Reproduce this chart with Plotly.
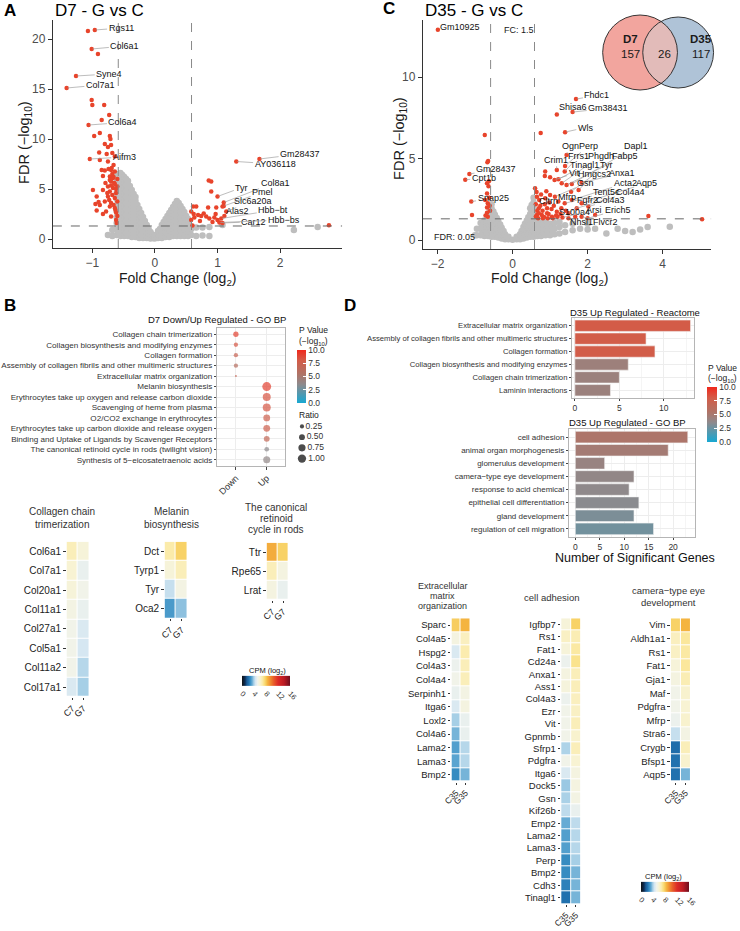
import numpy as np
import plotly.graph_objects as go

W, H = 740, 931
FONT = "Liberation Sans, Arial, sans-serif"

# ---------------- data: A volcano (D7 G vs C) ----------------
A_DOWN = [(-1.07, 20.8), (-0.96, 20.9), (-1.01, 19.0), (-0.91, 18.5), (-1.26, 16.3), (-1.41, 15.1),
          (-1.01, 13.9), (-1.00, 13.4), (-0.81, 13.4), (-0.73, 12.4), (-0.85, 11.9), (-1.06, 11.4),
          (-0.88, 10.6), (-0.97, 10.3), (-0.72, 10.3), (-0.71, 10.0), (-0.80, 9.5), (-0.70, 9.4),
          (-0.75, 9.2), (-0.89, 8.65), (-0.77, 8.5), (-0.68, 8.6), (-0.64, 8.25), (-1.04, 8.0),
          (-0.88, 7.9), (-0.75, 7.75), (-0.85, 6.9), (-0.80, 6.85), (-0.70, 6.9), (-0.64, 6.75),
          (-0.83, 6.3), (-0.72, 6.25), (-0.67, 6.1), (-0.60, 6.0), (-0.70, 5.75), (-0.64, 5.5),
          (-0.75, 5.25), (-0.67, 5.1), (-0.60, 5.25), (-0.99, 4.9), (-0.83, 4.9), (-0.72, 4.75),
          (-0.62, 4.6), (-0.93, 4.25), (-0.75, 4.25), (-0.64, 4.1), (-0.80, 3.75), (-0.70, 3.6),
          (-0.60, 3.75), (-0.88, 3.4), (-0.72, 3.25), (-0.64, 3.1), (-0.93, 2.85), (-0.78, 2.75),
          (-0.62, 2.65), (-0.70, 2.25), (-0.60, 2.3), (-0.83, 2.5), (-0.68, 6.5), (-0.66, 6.2),
          (-0.72, 5.9), (-0.65, 5.6), (-0.70, 5.35), (-0.62, 5.0), (-0.68, 4.4), (-0.73, 3.9),
          (-0.66, 3.4), (-0.62, 1.9), (-0.61, 1.6), (-0.63, 2.9), (-0.90, 3.7), (-0.95, 3.5),
          (-0.76, 4.6), (-0.79, 5.6), (-0.69, 7.1), (-0.74, 7.0), (-0.66, 7.4)]
A_UP = [(1.67, 8.0), (1.30, 7.75), (0.86, 5.85), (0.90, 5.75), (0.90, 4.75), (1.00, 4.25),
        (1.10, 3.65), (1.10, 3.3), (0.61, 3.25), (0.66, 3.25), (0.85, 3.15), (0.98, 3.15),
        (1.08, 3.25), (0.58, 2.75), (0.62, 2.5), (0.69, 2.4), (0.74, 2.3), (0.82, 2.25),
        (0.87, 2.05), (0.95, 2.15), (1.00, 1.9), (1.06, 2.05), (1.11, 2.3), (0.63, 2.15),
        (0.58, 1.9), (1.03, 1.65), (1.08, 1.6), (0.78, 2.55), (0.97, 2.5), (1.14, 2.75),
        (0.60, 1.35), (2.78, 1.38), (0.72, 1.8), (0.92, 1.7)]
A_NS = [(-0.75, [0.4]), (-0.68, [0.3, 0.9]),
        (-0.61, [0.4, 1.0, 1.6, 2.2, 2.8, 3.4, 4.0, 4.6, 5.2, 5.8, 6.3]),
        (-0.58, [0.7, 1.3, 1.9, 2.5, 3.1, 3.7, 4.3, 4.9, 5.5, 6.1, 6.5]),
        (-0.55, [0.3, 0.9, 1.5, 2.1, 2.7, 3.3, 3.9, 4.5, 5.1, 5.7, 6.3, 6.6]),
        (-0.52, [0.6, 1.2, 1.8, 2.4, 3.0, 3.6, 4.2, 4.8, 5.4, 6.0, 6.4]),
        (-0.49, [0.3, 0.9, 1.5, 2.1, 2.7, 3.3, 3.9, 4.5, 5.1, 5.7, 6.2]),
        (-0.46, [0.6, 1.2, 1.8, 2.4, 3.0, 3.6, 4.2, 4.8, 5.4, 6.0]),
        (-0.43, [0.3, 0.9, 1.5, 2.1, 2.7, 3.3, 3.9, 4.5, 5.2, 5.8]),
        (-0.40, [0.5, 1.1, 1.7, 2.3, 2.9, 3.5, 4.1, 4.7, 5.3]),
        (-0.37, [0.2, 0.8, 1.4, 2.0, 2.6, 3.2, 3.8, 4.4, 4.9]),
        (-0.34, [0.5, 1.1, 1.7, 2.3, 2.9, 3.5, 4.1, 4.5]),
        (-0.31, [0.2, 0.8, 1.4, 2.0, 2.6, 3.2, 3.8, 4.2]),
        (-0.28, [0.4, 1.0, 1.6, 2.2, 2.8, 3.4]),
        (-0.25, [0.1, 0.7, 1.3, 1.9, 2.5, 3.0]),
        (-0.22, [0.4, 1.0, 1.6, 2.2, 2.6]),
        (-0.19, [0.1, 0.6, 1.2, 1.8, 2.2]),
        (-0.16, [0.3, 0.9, 1.5, 1.8]),
        (-0.13, [0.1, 0.5, 1.0, 1.4]),
        (-0.10, [0.2, 0.6, 1.0]),
        (-0.07, [0.05, 0.4, 0.7]),
        (-0.04, [0.15, 0.45]),
        (-0.01, [0.05, 0.25]),
        (0.02, [0.1, 0.4]),
        (0.05, [0.1, 0.5, 0.8]),
        (0.08, [0.3, 0.7, 1.0]),
        (0.11, [0.1, 0.6, 1.1, 1.4]),
        (0.14, [0.4, 0.9, 1.4, 1.7]),
        (0.17, [0.2, 0.7, 1.2, 1.7, 2.0]),
        (0.20, [0.5, 1.0, 1.5, 2.0, 2.3]),
        (0.23, [0.2, 0.8, 1.4, 2.0, 2.6]),
        (0.26, [0.5, 1.1, 1.7, 2.3, 2.9]),
        (0.29, [0.3, 0.9, 1.5, 2.1, 2.7, 3.2]),
        (0.32, [0.6, 1.2, 1.8, 2.4, 3.0, 3.5]),
        (0.35, [0.3, 0.9, 1.5, 2.1, 2.7, 3.3, 3.8]),
        (0.38, [0.6, 1.2, 1.8, 2.4, 3.0, 3.6]),
        (0.41, [0.3, 0.9, 1.5, 2.1, 2.7, 3.3]),
        (0.44, [0.6, 1.2, 1.8, 2.4, 3.0]),
        (0.47, [0.3, 0.9, 1.5, 2.1, 2.7]),
        (0.50, [0.6, 1.2, 1.8, 2.3]),
        (0.53, [0.3, 0.9, 1.5, 2.0]),
        (0.58, [0.4, 1.0]),
        (0.66, [0.3, 1.15]), (0.76, [0.35, 1.15]), (0.87, [0.3, 1.2]), (1.08, [1.4]),
        (2.22, [0.9]), (2.6, [1.2])]
A_LABELS = ["Rgs11", "Col6a1", "Syne4", "Col7a1", "Col6a4", "Aifm3", "Gm28437", "AY036118",
            "Tyr", "Col8a1", "Pmel", "Slc6a20a", "Alas2", "Hbb−bt", "Car12", "Hbb−bs"]
A_LAB_PT = [(-0.96, 20.9), (-1.01, 19.0), (-1.26, 16.3), (-1.41, 15.1), (-1.06, 11.4), (-1.04, 8.0),
            (1.67, 8.0), (1.30, 7.75), (1.00, 4.25), (1.10, 3.65), (1.10, 3.3), (1.14, 2.75),
            (1.11, 2.3), (1.06, 2.05), (1.08, 1.6), (1.03, 1.65)]
A_LAB_TXT = [(-0.54, 21.1), (-0.48, 19.3), (-0.73, 16.5), (-0.87, 15.4), (-0.51, 11.65), (-0.49, 8.2),
             (2.32, 8.5), (1.92, 7.5), (1.39, 5.15), (1.92, 5.65), (1.72, 4.68), (1.57, 3.78),
             (1.32, 2.8), (1.89, 2.87), (1.58, 1.73), (2.06, 1.9)]

# ---------------- data: C volcano (D35 G vs C) ----------------
C_DOWN = [(-1.99, 12.9), (-0.74, 6.45), (-0.65, 4.85), (-0.67, 4.78), (-1.15, 4.05), (-1.26, 3.7),
          (-0.68, 3.48), (-0.64, 3.3), (-0.68, 2.85), (-0.62, 2.6), (-0.73, 2.46), (-0.66, 2.25),
          (-0.68, 2.0), (-1.10, 2.36), (-1.08, 1.54), (-0.60, 1.8), (-0.68, 1.68), (-0.66, 1.43),
          (-0.63, 3.6), (-0.61, 2.1), (-0.72, 1.5)]
C_UP = [(1.69, 8.65), (1.18, 7.7), (1.60, 7.85), (1.40, 6.62), (0.75, 6.56), (1.44, 5.22),
        (1.40, 4.55), (1.18, 4.3), (1.39, 4.2), (0.87, 4.2), (0.86, 3.93), (1.00, 3.85),
        (1.12, 3.69), (1.22, 3.73), (1.31, 3.48), (1.44, 3.38), (1.58, 3.44), (1.84, 3.52),
        (1.76, 3.07), (1.56, 2.97), (0.60, 3.17), (0.65, 2.66), (0.71, 2.46), (0.87, 2.56),
        (1.00, 2.76), (1.13, 2.66), (1.22, 2.36), (1.39, 2.25), (1.58, 2.46), (1.84, 2.25),
        (2.02, 2.05), (1.71, 1.95), (1.49, 1.64), (1.18, 1.74), (0.70, 1.95), (0.65, 1.54),
        (0.78, 1.54), (0.92, 1.64), (1.05, 1.43), (0.68, 1.33), (0.81, 1.33), (0.94, 1.33),
        (1.07, 1.33), (1.20, 1.43), (1.33, 1.38), (1.49, 1.33), (1.67, 1.43), (1.84, 1.43),
        (2.00, 1.33), (2.20, 1.54), (3.62, 1.47), (5.05, 1.27), (0.62, 2.2), (0.66, 1.8),
        (0.74, 2.1), (0.80, 1.8), (0.86, 2.2), (0.92, 1.95), (0.98, 2.3), (1.04, 1.9),
        (1.10, 2.1), (1.16, 1.5), (0.62, 1.45), (0.70, 1.65), (0.76, 2.8), (0.90, 3.0),
        (0.64, 2.95), (1.30, 1.95), (1.28, 1.6), (1.42, 1.8), (0.84, 1.42), (0.96, 1.6)]
C_NS = [(-1.0, [0.3]), (-0.95, [0.3, 0.7]), (-0.85, [0.3, 0.7, 1.05]), (-0.80, [0.5, 0.9]),
        (-0.75, [0.25, 0.6, 0.95, 1.2]), (-0.70, [0.45, 0.8, 1.1]), (-0.65, [0.25, 0.6, 0.95, 1.25]),
        (-0.60, [0.4, 0.75, 1.1, 1.45, 1.8, 2.1]),
        (-0.56, [0.2, 0.55, 0.9, 1.25, 1.6, 1.95, 2.2]),
        (-0.51, [0.4, 0.75, 1.1, 1.45, 1.75]),
        (-0.47, [0.2, 0.55, 0.9, 1.25, 1.55]),
        (-0.42, [0.35, 0.7, 1.05, 1.35]),
        (-0.38, [0.15, 0.5, 0.85, 1.15]),
        (-0.33, [0.3, 0.65, 0.95]),
        (-0.29, [0.1, 0.45, 0.75]), (-0.24, [0.25, 0.55]), (-0.2, [0.05, 0.35]), (-0.15, [0.2]),
        (-0.11, [0.05, 0.2]), (0.0, [0.02]), (0.11, [0.05, 0.2]), (0.15, [0.2]), (0.2, [0.05, 0.35]),
        (0.24, [0.25, 0.55]), (0.29, [0.1, 0.45, 0.8]), (0.33, [0.3, 0.65, 1.0]),
        (0.38, [0.15, 0.5, 0.85, 1.2]), (0.42, [0.35, 0.7, 1.05, 1.4]),
        (0.47, [0.2, 0.55, 0.9, 1.25, 1.6, 1.95]),
        (0.51, [0.4, 0.75, 1.1, 1.45, 1.8, 2.15]),
        (0.56, [0.2, 0.55, 0.9, 1.25, 1.6, 1.95, 2.3, 2.6]),
        (0.61, [0.4, 0.75, 1.05]),
        (0.66, [0.25, 0.6, 0.95, 1.2]), (0.71, [0.4, 0.8, 1.1]), (0.76, [0.25, 0.6, 0.95, 1.2]),
        (0.82, [0.45, 0.8, 1.1]), (0.88, [0.3, 0.65, 1.0, 1.2]), (0.94, [0.5, 0.85]),
        (1.0, [0.3, 0.65, 1.0]), (1.06, [0.5, 0.85]), (1.12, [0.35, 0.7, 1.05]),
        (1.25, [0.4, 0.8, 1.1]), (1.4, [0.5, 0.9]), (1.6, [0.6, 1.0]), (1.8, [0.7]),
        (2.0, [0.65, 1.0]), (2.2, [0.7]), (2.5, [0.4]), (2.8, [0.7]), (3.0, [0.55]),
        (3.2, [0.5]), (3.4, [0.65]), (3.6, [0.8]), (4.19, [0.82])]
C_LABELS = ["Gm10925", "Fhdc1", "Shisa6", "Gm38431", "Wls", "Gm28437", "Cpt1b", "Snap25",
            "Ogn", "Perp", "Dapl1", "Frrs1", "Phgdh", "Fabp5", "Crim1", "Tinagl1", "Tyr", "Vit",
            "Hmgcs2", "Anxa1", "Gsn", "Acta2", "Aqp5", "Tent5c", "Col4a4", "Mfrp", "Cltrn",
            "Fgfr2", "Col4a3", "S100a4", "Arsi", "Erich5", "Nhsl1", "Flvcr2"]
C_LAB_PT = [(-1.99, 12.9), (1.69, 8.65), (1.18, 7.7), (1.60, 7.85), (1.40, 6.62), (-1.15, 4.05),
            (-1.26, 3.7), (-1.10, 2.36), (1.44, 5.22), (1.40, 4.55), (1.58, 3.44), (1.39, 4.2),
            (1.31, 3.48), (1.44, 3.38), (1.18, 4.3), (1.22, 3.73), (1.56, 2.97), (1.12, 3.69),
            (1.76, 3.07), (1.84, 3.52), (1.13, 2.66), (1.58, 2.46), (1.84, 2.25), (1.39, 2.25),
            (1.71, 1.95), (1.22, 2.36), (0.87, 2.56), (1.49, 1.64), (2.02, 2.05), (1.18, 1.74),
            (1.33, 1.38), (2.00, 1.33), (1.49, 1.33), (1.84, 1.43)]
C_LAB_TXT = [(-1.41, 13.1), (2.25, 8.87), (1.62, 8.15), (2.55, 8.09), (1.94, 6.9), (-0.44, 4.35),
             (-0.77, 3.79), (-0.52, 2.56), (1.54, 5.78), (2.02, 5.78), (3.28, 5.74), (1.77, 5.16),
             (2.35, 5.16), (3.0, 5.16), (1.16, 4.92), (1.93, 4.59), (2.51, 4.59), (1.64, 4.1),
             (2.18, 4.06), (2.92, 4.1), (1.95, 3.48), (3.0, 3.48), (3.56, 3.48), (2.51, 2.93),
             (3.15, 2.93), (1.44, 2.66), (0.97, 2.4), (1.99, 2.46), (2.62, 2.46), (1.65, 1.74),
             (2.17, 1.84), (2.8, 1.84), (1.84, 1.13), (2.47, 1.13)]

FC_CUT = 0.585   # log2(1.5)
FDR_CUT = 1.301  # -log10(0.05)

# ---------------- data: Venn ----------------
VENN_SETS = ["D7", "D35"]
VENN_ONLY = [157, 117]
VENN_BOTH = 26

# ---------------- data: B dot plot ----------------
DOT_TERMS = ["Collagen chain trimerization", "Collagen biosynthesis and modifying enzymes",
             "Collagen formation", "Assembly of collagen fibrils and other multimeric structures",
             "Extracellular matrix organization", "Melanin biosynthesis",
             "Erythrocytes take up oxygen and release carbon dioxide", "Scavenging of heme from plasma",
             "O2/CO2 exchange in erythrocytes", "Erythrocytes take up carbon dioxide and release oxygen",
             "Binding and Uptake of Ligands by Scavenger Receptors",
             "The canonical retinoid cycle in rods (twilight vision)",
             "Synthesis of 5−eicosatetraenoic acids"]
DOT_GROUP = ["Down"] * 5 + ["Up"] * 8
DOT_RATIO = [0.41, 0.27, 0.27, 0.27, 0.06, 1.15, 0.93, 0.93, 0.68, 0.68, 0.5, 0.32, 0.72]
DOT_PVAL = [9.0, 8.2, 7.2, 6.0, 7.0, 9.0, 8.3, 8.2, 7.6, 7.6, 6.8, 3.5, 3.8]
RATIO_BREAKS = [0.25, 0.50, 0.75, 1.00]

# ---------------- data: D bars ----------------
REACT_TERMS = ["Extracellular matrix organization",
               "Assembly of collagen fibrils and other multimeric structures",
               "Collagen formation", "Collagen biosynthesis and modifying enzymes",
               "Collagen chain trimerization", "Laminin interactions"]
REACT_N = [13, 8, 9, 6, 5, 4]
REACT_P = [8.0, 7.9, 7.9, 4.4, 4.3, 4.3]
GOBP_TERMS = ["cell adhesion", "animal organ morphogenesis", "glomerulus development",
              "camera−type eye development", "response to acid chemical",
              "epithelial cell differentiation", "gland development", "regulation of cell migration"]
GOBP_N = [23, 19, 6, 12, 11, 13, 12, 16]
GOBP_P = [5.3, 4.8, 4.1, 3.8, 3.6, 3.4, 3.0, 2.7]

# ---------------- data: heatmaps (CPM, log2) ----------------
B1_GENES = ["Col6a1", "Col7a1", "Col20a1", "Col11a1", "Col27a1", "Col5a1", "Col11a2", "Col17a1"]
B1_C = [6.5, 6.0, 5.8, 5.5, 5.3, 5.3, 5.3, 4.6]
B1_G = [5.8, 5.0, 5.3, 5.0, 4.6, 4.5, 4.1, 3.9]
B2_GENES = ["Dct", "Tyrp1", "Tyr", "Oca2"]
B2_C = [6.8, 5.8, 4.3, 3.0]
B2_G = [7.8, 6.5, 5.5, 3.7]
B3_GENES = ["Ttr", "Rpe65", "Lrat"]
B3_C = [8.7, 6.5, 5.6]
B3_G = [7.8, 5.6, 5.0]
D1_GENES = ["Sparc", "Col4a5", "Hspg2", "Col4a3", "Col4a4", "Serpinh1", "Itga6", "Loxl2",
            "Col4a6", "Lama2", "Lama3", "Bmp2"]
D1_C = [7.9, 5.6, 4.6, 5.1, 5.3, 5.0, 4.6, 3.9, 3.5, 3.1, 3.2, 2.7]
D1_G = [8.5, 6.4, 6.7, 6.5, 6.5, 5.5, 5.6, 5.0, 5.0, 4.1, 4.1, 3.5]
D2_GENES = ["Igfbp7", "Rs1", "Fat1", "Cd24a", "Anxa1", "Ass1", "Col4a3", "Ezr", "Vit", "Gpnmb",
            "Sfrp1", "Pdgfra", "Itga6", "Dock5", "Gsn", "Kif26b", "Emp2", "Lama2", "Lama3",
            "Perp", "Bmp2", "Cdh3", "Tinagl1"]
D2_C = [5.8, 6.3, 5.8, 5.1, 5.6, 5.7, 5.1, 5.3, 5.3, 5.3, 4.0, 5.3, 4.6, 3.8, 3.95, 4.2,
        3.35, 3.1, 3.1, 2.7, 2.7, 2.5, 2.2]
D2_G = [7.8, 6.6, 6.9, 7.2, 6.5, 6.5, 6.4, 6.3, 6.5, 6.1, 6.5, 6.0, 5.6, 5.6, 5.5, 5.0,
        4.2, 4.1, 4.1, 3.9, 3.5, 3.5, 3.5]
D3_GENES = ["Vim", "Aldh1a1", "Rs1", "Fat1", "Gja1", "Maf", "Pdgfra", "Mfrp", "Stra6", "Crygb",
            "Bfsp1", "Aqp5"]
D3_C = [7.8, 6.4, 6.3, 5.8, 5.6, 5.3, 5.3, 5.1, 4.3, 2.1, 2.2, 2.2]
D3_G = [8.5, 7.0, 6.9, 7.0, 6.6, 6.1, 6.0, 6.1, 5.5, 6.5, 6.1, 3.5]
CPM_TICKS = [0, 4, 8, 12, 16]

# ---------------- styles ----------------
RED = "#E8442B"
GREY = "#BEBEBE"
PSCALE = [[0, "#18A8D2"], [0.35, "#8D8A8D"], [0.55, "#B07366"], [0.8, "#D35C48"], [1, "#F0281C"]]
CPM_STOPS = [(0, "#111111"), (1, "#0B2D55"), (1.6, "#1A5A94"), (2.2, "#2171AE"), (2.8, "#3A91C5"),
             (3.4, "#6AADD5"), (3.9, "#A6CFE6"), (4.5, "#D6E7F2"), (5.2, "#F0F3EC"), (6.0, "#F8F3D3"),
             (6.8, "#FBEBAA"), (7.6, "#F9DA72"), (8.5, "#F4B440"), (9.5, "#EF8A30"), (10.5, "#E95F29"),
             (12, "#DC2B26"), (14, "#BB1A23"), (16, "#6E0E1E")]
CPM_SCALE = [[v / 16, c] for v, c in CPM_STOPS]


def px(x):
    return x / W


def py(y):
    return 1 - y / H


def refs(n):
    return ("x", "y") if n == 1 else (f"x{n}", f"y{n}")


def names(n):
    return ("xaxis", "yaxis") if n == 1 else (f"xaxis{n}", f"yaxis{n}")


fig = go.Figure()
layout = {}
annotations = []
shapes = []


def txt(text, x, y, size=10, color="#1a1a1a", xanchor="center", yanchor="middle", angle=0):
    annotations.append(dict(text=text, x=px(x), y=py(y), xref="paper", yref="paper", showarrow=False,
                            xanchor=xanchor, yanchor=yanchor, textangle=angle,
                            font=dict(size=size, color=color, family=FONT)))


def set_axes(n, left, right, top, bottom, xa, ya):
    xn, yn = names(n)
    xr, yr = refs(n)
    base = dict(zeroline=False, showgrid=False)
    layout[xn] = dict(base, domain=[px(left), px(right)], anchor=yr, **xa)
    layout[yn] = dict(base, domain=[py(bottom), py(top)], anchor=xr, **ya)


# ---------------- volcano panels ----------------
def volcano(n, down, up, ns, labels, lab_pt, lab_txt, box, xr, yr, xt, yt, gsize):
    xref, yref = refs(n)
    nsx = [x for x, ys in ns for _ in ys]
    nsy = [y for _, ys in ns for y in ys]
    fig.add_trace(go.Scatter(x=nsx, y=nsy, mode="markers", xaxis=xref, yaxis=yref,
                             marker=dict(color=GREY, size=gsize, line=dict(width=0))))
    sig = down + up
    fig.add_trace(go.Scatter(x=[p[0] for p in sig], y=[p[1] for p in sig], mode="markers",
                             xaxis=xref, yaxis=yref, marker=dict(color=RED, size=4.5, line=dict(width=0))))
    ax_style = dict(showline=True, linecolor="#333", linewidth=1, ticks="outside", ticklen=4,
                    tickcolor="#333", tickfont=dict(size=12, color="#4d4d4d", family=FONT))
    set_axes(n, *box, dict(ax_style, range=xr, tickvals=xt, ticktext=[str(v).replace("-", "−") for v in xt]),
             dict(ax_style, range=yr, tickvals=yt))
    for xv in (-FC_CUT, FC_CUT):
        shapes.append(dict(type="line", xref=xref, yref=f"{yref} domain", x0=xv, x1=xv, y0=0, y1=1,
                           line=dict(color="#8a8a8a", width=1, dash="dash")))
    shapes.append(dict(type="line", xref=f"{xref} domain", yref=yref, x0=0, x1=1, y0=FDR_CUT, y1=FDR_CUT,
                       line=dict(color="#666", width=1, dash="dash")))
    for lab, (x0, y0), (tx, ty) in zip(labels, lab_pt, lab_txt):
        annotations.append(dict(text=lab, x=x0, y=y0, ax=tx, ay=ty, xref=xref, yref=yref,
                                axref=xref, ayref=yref, showarrow=True, arrowhead=0, arrowwidth=0.7,
                                arrowcolor="#a0a0a0", standoff=1,
                                font=dict(size=9, color="#111", family=FONT)))


volcano(1, A_DOWN, A_UP, A_NS, A_LABELS, A_LAB_PT, A_LAB_TXT, (53, 343, 20, 248),
        [-1.63, 2.99], [-0.9, 21.9], [-1, 0, 1, 2], [0, 5, 10, 15, 20], 6.5)
volcano(2, C_DOWN, C_UP, C_NS, C_LABELS, C_LAB_PT, C_LAB_TXT, (424, 713, 20, 249),
        [-2.39, 5.29], [-0.55, 13.5], [-2, 0, 2, 4], [0, 5, 10], 6.5)

txt("<b>A</b>", 2, 10, size=17, color="#000", xanchor="left")
txt("D7 - G vs C", 53, 10, size=17, color="#000", xanchor="left")
txt("Fold Change (log<sub>2</sub>)", 178, 279, size=14)
txt("FDR (−log<sub>10</sub>)", 25, 142, size=14.5, angle=-90)
txt("<b>C</b>", 382, 9, size=17, color="#000", xanchor="left")
txt("D35 - G vs C", 424, 10, size=17, color="#000", xanchor="left")
txt("Fold Change (log<sub>2</sub>)", 551, 279, size=14)
txt("FDR (−log<sub>10</sub>)", 401, 138, size=14.5, angle=-90)
txt("FC: 1.5", 503, 30, size=9, xanchor="left")
txt("FDR: 0.05", 433, 237, size=9, xanchor="left")

# ---------------- Venn ----------------
set_axes(3, 595, 725, 5, 100, dict(range=[595, 725], visible=False), dict(range=[100, 5], visible=False))
c1, r1 = (641.8, 52.5), 37.5
c2, r2 = (680.0, 52.5), 35.5
shapes.append(dict(type="circle", xref="x3", yref="y3", x0=c1[0] - r1, x1=c1[0] + r1, y0=c1[1] - r1,
                   y1=c1[1] + r1, fillcolor="#F2A59E", line=dict(width=0), layer="below"))
shapes.append(dict(type="circle", xref="x3", yref="y3", x0=c2[0] - r2, x1=c2[0] + r2, y0=c2[1] - r2,
                   y1=c2[1] + r2, fillcolor="#AFC3D7", line=dict(width=0), layer="below"))
d = c2[0] - c1[0]
a = (d * d + r1 * r1 - r2 * r2) / (2 * d)
h = np.sqrt(r1 * r1 - a * a)
t1 = np.arctan2(h, a)
t2 = np.arctan2(h, d - a)
ang1 = np.linspace(-t1, t1, 40)
ang2 = np.linspace(np.pi - t2, np.pi + t2, 40)
lx = np.concatenate([c1[0] + r1 * np.cos(ang1), c2[0] + r2 * np.cos(ang2)])
ly = np.concatenate([c1[1] + r1 * np.sin(ang1), c2[1] + r2 * np.sin(ang2)])
fig.add_trace(go.Scatter(x=lx, y=ly, fill="toself", fillcolor="#E2BBB9", mode="none",
                         xaxis="x3", yaxis="y3", hoverinfo="skip"))
for (cx, cy), r in ((c1, r1), (c2, r2)):
    shapes.append(dict(type="circle", xref="x3", yref="y3", x0=cx - r, x1=cx + r, y0=cy - r, y1=cy + r,
                       line=dict(color="#222", width=0.9), layer="above"))
txt(f"<b>{VENN_SETS[0]}</b>", 632, 39, size=11.5)
txt(str(VENN_ONLY[0]), 632, 54, size=11.5)
txt(str(VENN_BOTH), 666, 54, size=11.5)
txt(f"<b>{VENN_SETS[1]}</b>", 703, 39, size=11.5)
txt(str(VENN_ONLY[1]), 703, 54, size=11.5)

# ---------------- B dot plot ----------------
def dot_size(r):
    return 8.3 * np.sqrt(np.array(r))


bw_x = dict(showline=True, mirror=True, linecolor="#B5B5B5", linewidth=1, showgrid=True,
            gridcolor="#EDEDED", gridwidth=0.8, ticks="outside", ticklen=2.5, tickcolor="#444")
fig.add_trace(go.Scatter(
    x=DOT_GROUP, y=DOT_TERMS, mode="markers", xaxis="x4", yaxis="y4",
    marker=dict(size=dot_size(DOT_RATIO), color=DOT_PVAL, colorscale=PSCALE, cmin=0, cmax=10,
                line=dict(width=0), showscale=True,
                colorbar=dict(x=px(298), xanchor="left", xpad=0, y=py(376.5), yanchor="middle", ypad=0,
                              len=53, lenmode="pixels", thickness=9, thicknessmode="pixels",
                              tickvals=[0, 2.5, 5, 7.5, 10], ticktext=["0.0", "2.5", "5.0", "7.5", "10.0"],
                              ticks="inside", ticklen=3, tickcolor="white", outlinewidth=0,
                              tickfont=dict(size=8.5, color="#333", family=FONT)))))
set_axes(4, 218, 286, 328, 466,
         dict(bw_x, type="category", categoryarray=["Down", "Up"], range=[-0.6, 1.6], tickangle=-45,
              tickfont=dict(size=9, color="#333", family=FONT)),
         dict(bw_x, type="category", categoryarray=DOT_TERMS, range=[12.6, -0.6],
              tickfont=dict(size=8.1, color="#333", family=FONT)))
txt("<b>B</b>", 2, 305, size=17, color="#000", xanchor="left")
txt("D7 Down/Up Regulated - GO BP", 218, 320, size=9.5, color="#111")
txt("P Value", 298, 330.5, size=8.5, xanchor="left")
txt("(−log<sub>10</sub>)", 298, 341, size=8.5, xanchor="left")
txt("Ratio", 298, 415, size=8.5, xanchor="left")

# size legend for Ratio
set_axes(5, 296, 330, 420, 465, dict(range=[0, 1], visible=False), dict(range=[3.6, -0.6], visible=False))
fig.add_trace(go.Scatter(x=[0.2] * len(RATIO_BREAKS), y=list(range(len(RATIO_BREAKS))),
                         mode="markers+text", xaxis="x5", yaxis="y5",
                         text=[f"{v:.2f}" for v in RATIO_BREAKS], textposition="middle right",
                         textfont=dict(size=8.5, color="#333", family=FONT),
                         marker=dict(size=dot_size(RATIO_BREAKS), color="#000", line=dict(width=0))))

# ---------------- D bar charts ----------------
bar_colorbar = dict(x=px(709), xanchor="left", xpad=0, y=py(414.5), yanchor="middle", ypad=0,
                    len=55, lenmode="pixels", thickness=10, thicknessmode="pixels",
                    tickvals=[0, 2.5, 5, 7.5, 10], ticktext=["0.0", "2.5", "5.0", "7.5", "10.0"],
                    ticks="inside", ticklen=3, tickcolor="white", outlinewidth=0,
                    tickfont=dict(size=8.5, color="#333", family=FONT))
fig.add_trace(go.Bar(x=REACT_N, y=REACT_TERMS, orientation="h", xaxis="x6", yaxis="y6", width=0.88,
                     marker=dict(color=REACT_P, colorscale=PSCALE, cmin=0, cmax=10,
                                 line=dict(color="#f2f2f2", width=0.6), showscale=True,
                                 colorbar=bar_colorbar)))
fig.add_trace(go.Bar(x=GOBP_N, y=GOBP_TERMS, orientation="h", xaxis="x7", yaxis="y7", width=0.88,
                     marker=dict(color=GOBP_P, colorscale=PSCALE, cmin=0, cmax=10,
                                 line=dict(color="#f2f2f2", width=0.6), showscale=False)))
tick9 = dict(size=8.5, color="#333", family=FONT)
set_axes(6, 574, 696, 318, 398,
         dict(bw_x, range=[-0.27, 13.4], tickvals=[0, 5, 10], tickfont=tick9, ticklen=2,
              minor=dict(showgrid=True, gridcolor="#F5F5F5", dtick=2.5)),
         dict(bw_x, type="category", categoryarray=REACT_TERMS, range=[5.6, -0.6],
              tickfont=dict(size=7.7, color="#333", family=FONT)))
set_axes(7, 571, 697, 429, 537,
         dict(bw_x, range=[-1.2, 24.5], tickvals=[0, 5, 10, 15, 20], tickfont=tick9, ticklen=2,
              minor=dict(showgrid=True, gridcolor="#F5F5F5", dtick=2.5)),
         dict(bw_x, type="category", categoryarray=GOBP_TERMS, range=[7.62, -0.62],
              tickfont=dict(size=8, color="#333", family=FONT)))
txt("<b>D</b>", 343, 305, size=17, color="#000", xanchor="left")
txt("D35 Up Regulated - Reactome", 570, 312, size=9.5, color="#111", xanchor="left")
txt("D35 Up Regulated - GO BP", 569, 423, size=9.5, color="#111", xanchor="left")
txt("Number of Significant Genes", 637, 558, size=12.5, color="#111")
txt("P Value", 708, 367.5, size=8.5, xanchor="left")
txt("(−log<sub>10</sub>)", 708, 378.5, size=8.5, xanchor="left")

# ---------------- heatmaps ----------------
def heatmap(n, genes, cv, gv, cols, box, title_lines, title_x, title_y0, title_dy, fsize,
            tsize=None, cbar=None):
    xref, yref = refs(n)
    fig.add_trace(go.Heatmap(z=[[c, g] for c, g in zip(cv, gv)], x=cols, y=genes, xaxis=xref, yaxis=yref,
                             colorscale=CPM_SCALE, zmin=0, zmax=16, xgap=1, ygap=1,
                             showscale=cbar is not None, colorbar=cbar or {}))
    tick = dict(ticks="outside", ticklen=2.5, tickcolor="#333", showline=False,
                tickfont=dict(size=fsize, color="#222", family=FONT))
    set_axes(n, *box,
             dict(tick, type="category", categoryarray=cols, tickmode="array", tickvals=cols,
                  ticktext=cols, tickangle=-45, ticklen=2,
                  tickfont=dict(size=fsize - 1, color="#222", family=FONT)),
             dict(tick, type="category", categoryarray=genes, tickmode="array", tickvals=genes,
                  ticktext=genes, autorange="reversed"))
    for i, line in enumerate(title_lines):
        txt(line, title_x, title_y0 + i * title_dy, size=tsize or fsize, color="#333")


def cpm_bar(cx, cy):
    return dict(orientation="h", x=px(cx), xanchor="center", xpad=0, y=py(cy), yanchor="middle", ypad=0,
                len=48, lenmode="pixels", thickness=10, thicknessmode="pixels", tickvals=CPM_TICKS,
                tickangle=45, ticks="", outlinewidth=0,
                tickfont=dict(size=7.5, color="#333", family=FONT))


heatmap(8, B1_GENES, B1_C, B1_G, ["C7", "G7"], (66.7, 89.3, 541.7, 696.7),
        ["Collagen chain", "trimerization"], 62, 511, 13, 10)
heatmap(9, B2_GENES, B2_C, B2_G, ["C7", "G7"], (165, 187.7, 541.7, 618.3),
        ["Melanin", "biosynthesis"], 172, 511, 13, 10)
heatmap(10, B3_GENES, B3_C, B3_G, ["C7", "G7"], (267.3, 289.3, 542.7, 600),
        ["The canonical", "retinoid", "cycle in rods"], 277, 507.5, 11, 10, cbar=cpm_bar(267, 687))
heatmap(11, D1_GENES, D1_C, D1_G, ["C35", "G35"], (452.7, 471.7, 618.3, 781.7),
        ["Extracellular", "matrix", "organization"], 444, 585.5, 10, 9.5, tsize=9)
heatmap(12, D2_GENES, D2_C, D2_G, ["C35", "G35"], (562.7, 582.3, 618.3, 904),
        ["cell adhesion"], 553, 597, 12, 9.5)
heatmap(13, D3_GENES, D3_C, D3_G, ["C35", "G35"], (672.7, 692.3, 618.3, 781.7),
        ["camera−type eye", "development"], 670, 590, 12.7, 9.5, cbar=cpm_bar(667, 893))
txt("CPM (log<sub>2</sub>)", 268, 671, size=7.5, color="#111")
txt("CPM (log<sub>2</sub>)", 665, 877, size=7.5, color="#111")

layout.update(dict(width=W, height=H, margin=dict(l=0, r=0, t=0, b=0), template="none",
                   paper_bgcolor="white", plot_bgcolor="white", showlegend=False,
                   font=dict(family=FONT, color="#222"), annotations=annotations, shapes=shapes))
fig.update_layout(**layout)
fig.write_html("out.html", config={"displayModeBar": False},
               post_script="document.body.style.margin='0px';")
